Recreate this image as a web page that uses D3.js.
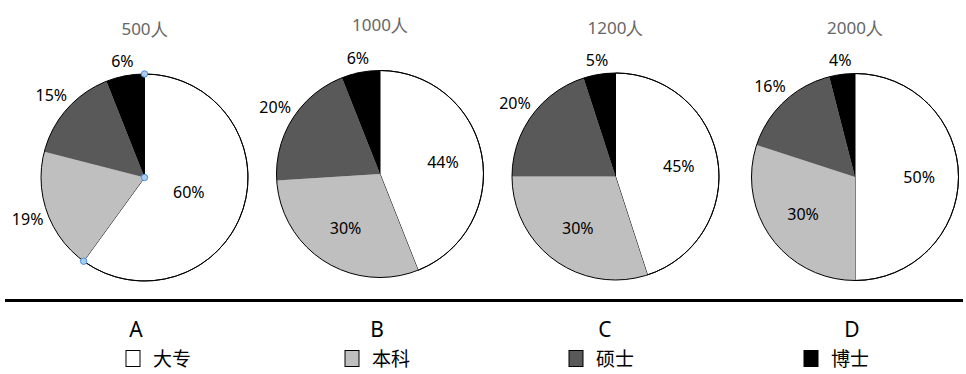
<!DOCTYPE html>
<html><head><meta charset="utf-8">
<script src="https://cdn.jsdelivr.net/npm/d3@7/dist/d3.min.js"></script>
<style>
html,body{margin:0;padding:0;background:#fff;}
svg{display:block;}
</style></head>
<body>
<svg id="chart" width="966" height="374"></svg>
<script>
// ---- data ----
const groups = ["A", "B", "C", "D"];
const totals = ["500人", "1000人", "1200人", "2000人"];
const categories = ["大专", "本科", "硕士", "博士"];
const dazhuan = [60, 44, 45, 50];
const benke   = [19, 30, 30, 30];
const shuoshi = [15, 20, 20, 16];
const boshi   = [6, 6, 5, 4];

// ---- layout / style ----
const colors = ["#ffffff", "#bfbfbf", "#595959", "#000000"];
const R = 103.5;
const cx = d3.scaleOrdinal(groups, [144.5, 380, 615.5, 855]);
const cy = d3.scaleOrdinal(groups, [177.5, 174, 176.5, 177]);
const legendLetterX = d3.scaleOrdinal(groups, [136, 377, 605, 852]);
const legendBoxX = d3.scaleOrdinal(categories, [126, 345, 569, 804]);
const latin = "'Noto Sans', 'Open Sans', sans-serif";
const cjk = "'Noto Sans CJK SC', 'Noto Sans', sans-serif";

const svg = d3.select("#chart");
const pie = d3.pie().sort(null).value(d => d);
const arc = d3.arc().innerRadius(0).outerRadius(R);

groups.forEach((g, i) => {
  const vals = [dazhuan[i], benke[i], shuoshi[i], boshi[i]];
  const arcs = pie(vals);
  const grp = svg.append("g").attr("transform", `translate(${cx(g)},${cy(g)})`);

  // title
  grp.append("text")
    .attr("x", 0).attr("y", -143)
    .attr("text-anchor", "middle")
    .attr("font-family", latin)
    .attr("font-size", 17)
    .attr("fill", "#666")
    .text(totals[i]);

  // slices
  grp.selectAll("path.slice").data(arcs).enter().append("path")
    .attr("class", "slice")
    .attr("d", arc)
    .attr("fill", (d, j) => colors[j])
    .attr("stroke", (d, j) => j === 0 ? "#000" : "none")
    .attr("stroke-width", 1);

  grp.append("circle").attr("r", R).attr("fill", "none")
    .attr("stroke", "#000").attr("stroke-width", 1);

  // labels
  arcs.forEach((d, j) => {
    let rf;
    if (j === 3) rf = 1.14;
    else if (j === 2 || d.value < 20) rf = 1.2;
    else if (d.value >= 60) rf = 0.45;
    else rf = 0.62;
    const lab = d3.arc().innerRadius(R * rf).outerRadius(R * rf);
    const [x, y] = lab.centroid(d);
    grp.append("text")
      .attr("x", x).attr("y", y)
      .attr("dy", "0.36em")
      .attr("text-anchor", "middle")
      .attr("font-family", latin)
      .attr("font-size", 16)
      .attr("fill", "#000")
      .text(d.value + "%");
  });

  // selection handles on the first chart
  if (i === 0) {
    const a0 = arcs[0];
    const pts = [[0, -R], [0, 0], [R * Math.sin(a0.endAngle), -R * Math.cos(a0.endAngle)]];
    grp.selectAll("circle.handle").data(pts).enter().append("circle")
      .attr("class", "handle")
      .attr("cx", d => d[0]).attr("cy", d => d[1])
      .attr("r", 3.2)
      .attr("fill", "#a9cdf0").attr("stroke", "#4a90d9").attr("stroke-width", 1);
  }
});

// horizontal rule
svg.append("line").attr("x1", 5).attr("x2", 963).attr("y1", 300.5).attr("y2", 300.5)
  .attr("stroke", "#000").attr("stroke-width", 3);

// option letters
svg.selectAll("text.letter").data(groups).enter().append("text")
  .attr("class", "letter")
  .attr("x", d => legendLetterX(d)).attr("y", 337)
  .attr("text-anchor", "middle")
  .attr("font-family", latin)
  .attr("font-size", 21)
  .attr("fill", "#000")
  .text(d => d);

// legend
const leg = svg.selectAll("g.leg").data(categories).enter().append("g").attr("class", "leg");
leg.append("rect")
  .attr("x", d => legendBoxX(d)).attr("y", 350.5)
  .attr("width", 14).attr("height", 16)
  .attr("fill", (d, j) => colors[j])
  .attr("stroke", "#000").attr("stroke-width", 1);
leg.append("text")
  .attr("x", d => legendBoxX(d) + 27).attr("y", 366)
  .attr("font-family", cjk)
  .attr("font-size", 19)
  .attr("fill", "#000")
  .text(d => d);
</script>
</body></html>
